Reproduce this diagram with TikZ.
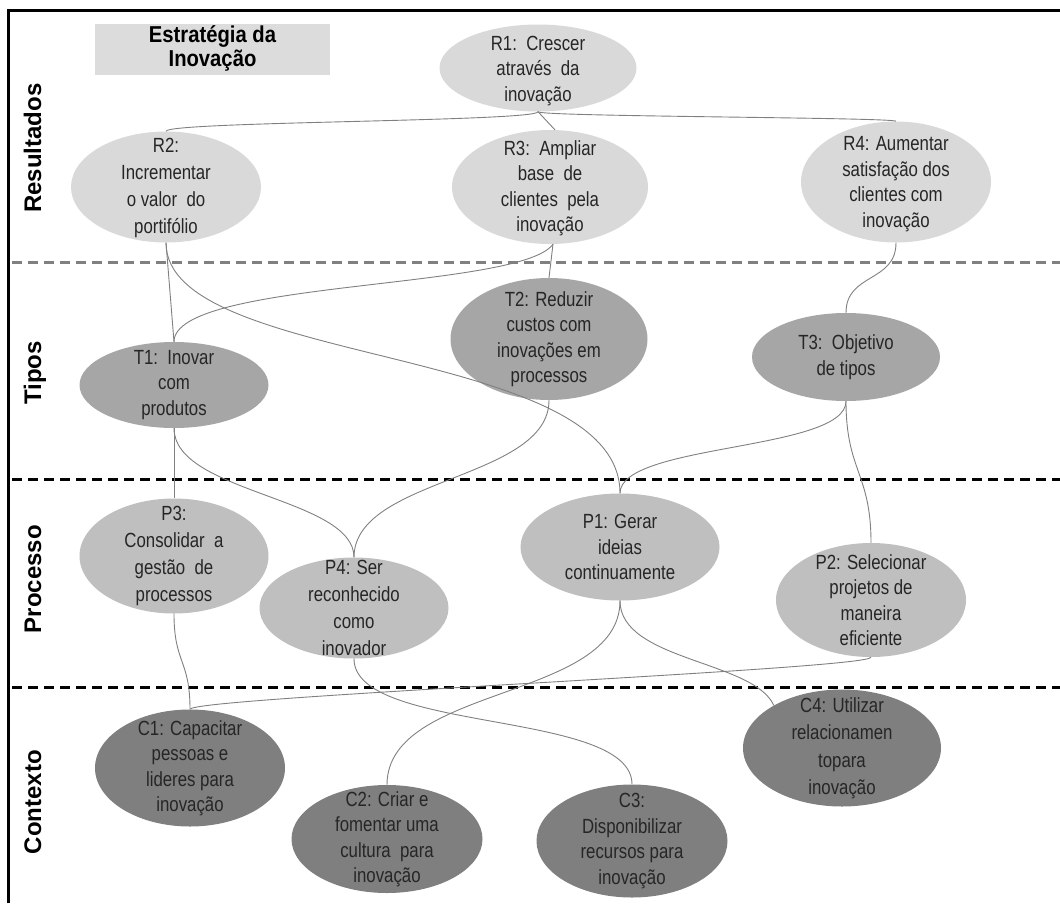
\documentclass[tikz,border=0pt]{standalone}
\usepackage{fontspec}
\setmainfont{Liberation Sans}
\newfontfamily\narrowsans{Liberation Sans}[FakeStretch=0.82]
\newfontfamily\headsans{Liberation Sans}[FakeStretch=0.88]
\usetikzlibrary{shapes.geometric}

\definecolor{resfill}{HTML}{D9D9D9}
\definecolor{tipfill}{HTML}{A6A6A6}
\definecolor{profill}{HTML}{BFBFBF}
\definecolor{ctxfill}{HTML}{7F7F7F}
\definecolor{linkgray}{HTML}{808080}
\definecolor{labelgray}{HTML}{262626}
\definecolor{titlefill}{HTML}{DCDCDC}

\begin{document}
\begin{tikzpicture}[x=1pt,y=-1pt,
  goal/.style={ellipse, draw=none, inner sep=0pt},
  res/.style={goal, fill=resfill},
  tip/.style={goal, fill=tipfill},
  pro/.style={goal, fill=profill},
  ctx/.style={goal, fill=ctxfill},
  lbl/.style={text=labelgray, align=center, inner sep=0pt,
    font=\narrowsans\fontsize{20.5}{25.5}\selectfont},
  widelbl/.style={lbl, font=\narrowsans\fontsize{20.5}{27}\selectfont},
  link/.style={draw=linkgray, line width=0.9pt},
  band/.style={line width=3pt, dash pattern=on 10pt off 6pt},
  side/.style={rotate=90, inner sep=0pt, text height=17pt, text depth=0pt,
    font=\bfseries\fontsize{24}{24}\selectfont}
]
\useasboundingbox (0,0) rectangle (1060,903);

% frame and layer separators
\draw[line width=2.5pt] (8.5,903) -- (8.5,10.5) -- (1060,10.5);
\draw[band, draw=linkgray] (12,262) -- (1060,262);
\draw[band] (12,479) -- (1060,479);
\draw[band] (12,687) -- (1060,687);

% layer names
\node[side] (sRes) at (32.5,148) {Resultados};
\node[side] (sTip) at (32.5,373) {Tipos};
\node[side] (sPro) at (32.5,579) {Processo};
\node[side] (sCtx) at (32.5,802) {Contexto};

% heading
\node[fill=titlefill, minimum width=235pt, minimum height=51pt, inner sep=0pt] (title) at (212.5,49.5) {};
\node[align=center, inner sep=0pt, font=\headsans\bfseries\fontsize{23}{24}\selectfont] (titletext) at ([yshift=1pt]title.center) {Estratégia da\\Inovação};

% objectives
\node[res, minimum width=197pt, minimum height=87pt]  (R1) at (538,68)  {};
\node[res, minimum width=190pt, minimum height=111pt] (R2) at (166,187) {};
\node[res, minimum width=196pt, minimum height=114pt] (R3) at (550,187) {};
\node[res, minimum width=190pt, minimum height=121pt] (R4) at (896,182) {};
\node[tip, minimum width=189pt, minimum height=86pt]  (T1) at (174,385) {};
\node[tip, minimum width=197pt, minimum height=122pt] (T2) at (549,339) {};
\node[tip, minimum width=188pt, minimum height=88pt]  (T3) at (846,357) {};
\node[pro, minimum width=199pt, minimum height=107pt] (P1) at (620,547) {};
\node[pro, minimum width=190pt, minimum height=114pt] (P2) at (871,600) {};
\node[pro, minimum width=189pt, minimum height=115pt] (P3) at (174,556) {};
\node[pro, minimum width=189pt, minimum height=101pt] (P4) at (354,608) {};
\node[ctx, minimum width=190pt, minimum height=117pt] (C1) at (190,768) {};
\node[ctx, minimum width=191pt, minimum height=108pt] (C2) at (387,839) {};
\node[ctx, minimum width=191pt, minimum height=113pt] (C3) at (632,841) {};
\node[ctx, minimum width=198pt, minimum height=117pt] (C4) at (842,748) {};

% links between objectives
\draw[link] (R1.south) .. controls +(0,10) and +(0,-10) .. (R2.north);
\draw[link] (R1.south) -- (R3.85);
\draw[link] (R1.south) .. controls +(0,5) and +(0,-4) .. (R4.north);
\draw[link] (R3.-87) -- (T2.north);
\draw[link] (R3.-87) .. controls +(-33,46) and +(0,-62) .. (T1.north);
\draw[link] (R2.south) -- (T1.north);
\draw[link] (R2.south) .. controls +(0,125) and +(0,-150) .. (P1.north);
\draw[link] (R4.south) .. controls +(0,40) and +(0,-40) .. (T3.north);
\draw[link] (T1.south) -- (P3.north);
\draw[link] (T1.south) .. controls +(0,65) and +(0,-60) .. (P4.north);
\draw[link] (T2.south) .. controls +(0,80) and +(0,-80) .. (P4.north);
\draw[link] (T3.south) .. controls +(0,50) and +(0,-50) .. (P1.north);
\draw[link] (T3.south) .. controls +(0,70) and +(0,-70) .. (P2.north);
\draw[link] (P3.south) .. controls +(0,50) and +(0,-50) .. (C1.north);
\draw[link] (P2.south) .. controls +(0,12) and +(0,-12) .. (C1.north);
\draw[link] (P1.south) .. controls +(0,100) and +(0,-100) .. (C2.north);
\draw[link] (P1.south) .. controls +(0,60) and +(-20,-45) .. (C4.148);
\draw[link] (P4.south) .. controls +(0,75) and +(0,-75) .. (C3.north);

% objective texts
\node[lbl] (tR1) at ([yshift=-3pt]R1.center) {R1:\ \ Crescer\\através\ \ da\\inovação};
\node[widelbl] (tR2) at ([yshift=-1pt]R2.center) {R2:\\Incrementar\\o valor\ \ do\\portifólio};
\node[lbl] (tR3) at ([yshift=-1pt]R3.center) {R3:\ \ Ampliar\\base\ \ de\\clientes\ \ pela\\inovação};
\node[lbl] (tR4) at ([yshift=-2pt]R4.center) {R4: Aumentar\\satisfação dos\\clientes com\\inovação};
\node[lbl] (tT1) at (T1.center) {T1:\ \ Inovar\\com\\produtos};
\node[lbl] (tT2) at (T2.center) {T2: Reduzir\\custos com\\inovações em\\processos};
\node[lbl] (tT3) at (T3.center) {T3:\ \ Objetivo\\de tipos};
\node[lbl] (tP1) at (P1.center) {P1: Gerar\\ideias\\continuamente};
\node[lbl] (tP2) at (P2.center) {P2: Selecionar\\projetos de\\maneira\\eficiente};
\node[widelbl] (tP3) at (P3.center) {P3:\\Consolidar\ \ a\\gestão\ \ de\\processos};
\node[widelbl] (tP4) at (P4.center) {P4: Ser\\reconhecido\\como\\inovador};
\node[lbl] (tC1) at (C1.center) {C1: Capacitar\\pessoas e\\lideres para\\inovação};
\node[lbl] (tC2) at (C2.center) {C2: Criar e\\fomentar uma\\cultura\ \ para\\inovação};
\node[lbl] (tC3) at (C3.center) {C3:\\Disponibilizar\\recursos para\\inovação};
\node[lbl, font=\narrowsans\fontsize{20.5}{27.5}\selectfont] (tC4) at (C4.center) {C4: Utilizar\\relacionamen\\topara\\inovação};
\end{tikzpicture}
\end{document}
